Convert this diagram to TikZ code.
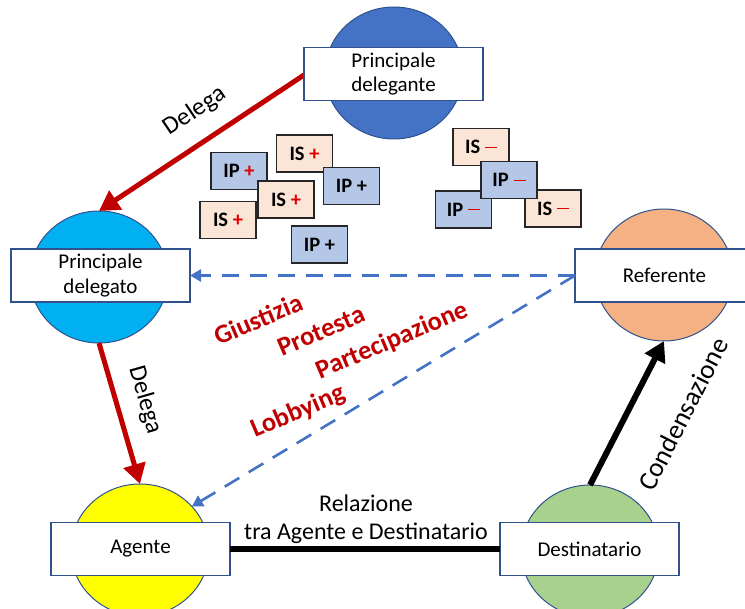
\documentclass[tikz,border=0pt]{standalone}
\usepackage{fontspec}
\setmainfont{Carlito}
\usetikzlibrary{shapes.geometric,arrows.meta}
\definecolor{edgeblue}{HTML}{2F528F}
\definecolor{pdblue}{HTML}{4472C4}
\definecolor{cyanc}{HTML}{00B0F0}
\definecolor{orangec}{HTML}{F4B183}
\definecolor{yellowc}{HTML}{FFFF00}
\definecolor{greenc}{HTML}{A9D18E}
\definecolor{darkred}{HTML}{C00000}
\definecolor{plusred}{HTML}{E00000}
\definecolor{ipfill}{HTML}{B4C7E7}
\definecolor{isfill}{HTML}{FBE5D6}
\definecolor{dashblue}{HTML}{4472C4}
\begin{document}
\begin{tikzpicture}[x=1pt,y=-1pt,
  circ/.style={ellipse,draw=edgeblue,line width=1pt,inner sep=0pt,outer sep=0pt,minimum width=138pt,minimum height=132pt},
  lbox/.style={rectangle,draw=edgeblue,line width=1.2pt,fill=white,inner sep=0pt,outer sep=0pt,minimum width=179pt,minimum height=53pt,align=center,font=\fontsize{21}{24.5}\selectfont},
  smallbox/.style={rectangle,draw=black!85,line width=1.5pt,inner sep=0pt,minimum width=56pt,minimum height=37pt,font=\fontsize{20.5}{22}\selectfont\bfseries},
  ipb/.style={smallbox,fill=ipfill},
  isb/.style={smallbox,fill=isfill},
  redarrow/.style={draw=darkred,line width=5pt,-{Triangle[length=20pt,width=22pt]}},
  blkarrow/.style={draw=black,line width=6pt,-{Triangle[length=20pt,width=22pt]}},
  blueDash/.style={draw=dashblue,line width=2.6pt,dash pattern=on 17pt off 11pt,-{Triangle[length=11pt,width=12pt]}},
  redlabel/.style={text=darkred,font=\fontsize{26.5}{30}\selectfont\bfseries,rotate=23},
  blklabel/.style={font=\fontsize{25}{28}\selectfont}
]
\useasboundingbox (0,0) rectangle (745,609);
\clip (0,0) rectangle (745,609);
\newcommand{\plusmark}{\textcolor{plusred}{+}}
\newcommand{\minusmark}{\textcolor{plusred}{\rule[0.28em]{12pt}{1.3pt}}}

% ellipses
\node[circ,fill=pdblue] (pdc) at (394,73) {};
\node[circ,fill=cyanc] (dgc) at (99,277) {};
\node[circ,fill=orangec] (rfc) at (664,275) {};
\node[circ,fill=yellowc] (agc) at (140,550) {};
\node[circ,fill=greenc] (dsc) at (590,551) {};

% connectors
\draw[redarrow] (304,75) coordinate (pdw) -- (dgc.north);
\draw[redarrow] (dgc.south) -- (agc.north);
\draw[blkarrow] (dsc.north) -- (rfc.south);

% boxes
\node[lbox] (pdb) at (393.5,74) {Principale\\delegante};
\node[lbox] (dgb) at (100.5,275.5) {Principale\\delegato};
\node[lbox] (rfb) at (664.5,275.5) {Referente};
\node[lbox] (agb) at (140.5,549) {Agente};
\node[lbox] (dsb) at (589.5,549) {Destinatario};

\draw[line width=6pt] (agb.east) -- (dsb.west);
\draw[blueDash] (rfb.west) -- (dgb.east);
\draw[blueDash] (rfb.west) -- (agc.40);

% small boxes
\node[ipb] (ip1) at (239,171) {IP \plusmark};
\node[isb] (is1) at (304.5,153.5) {IS \plusmark};
\node[ipb] (ip2) at (351.5,186) {IP +};
\node[isb] (is2) at (286,199.5) {IS \plusmark};
\node[isb] (is3) at (228,220) {IS \plusmark};
\node[ipb] (ip3) at (319.5,244.5) {IP +};

\node[isb] (is4) at (481,147) {IS \minusmark};
\node[ipb] (ip5) at (463.5,209.5) {IP \minusmark};
\node[isb] (is5) at (553,208.5) {IS \minusmark};
\node[ipb] (ip4) at (509,180) {IP \minusmark};

% labels
\node[blklabel,rotate=34] (l1) at (195,111) {Delega};
\node[blklabel,rotate=-74] (l2) at (145,400) {Delega};
\node[font=\fontsize{27}{30}\selectfont,rotate=63] (l3) at (683,414) {Condensazione};
\node[font=\fontsize{24}{28}\selectfont] (r1) at (366,503) {Relazione};
\node[font=\fontsize{24}{28}\selectfont] (r2) at (366,533) {tra Agente e Destinatario};

\node[redlabel] (g1) at (258,319) {Giustizia};
\node[redlabel] (g2) at (321,331) {Protesta};
\node[redlabel] (g3) at (392,341) {Partecipazione};
\node[redlabel] (g4) at (298,412) {Lobbying};
\end{tikzpicture}
\end{document}
